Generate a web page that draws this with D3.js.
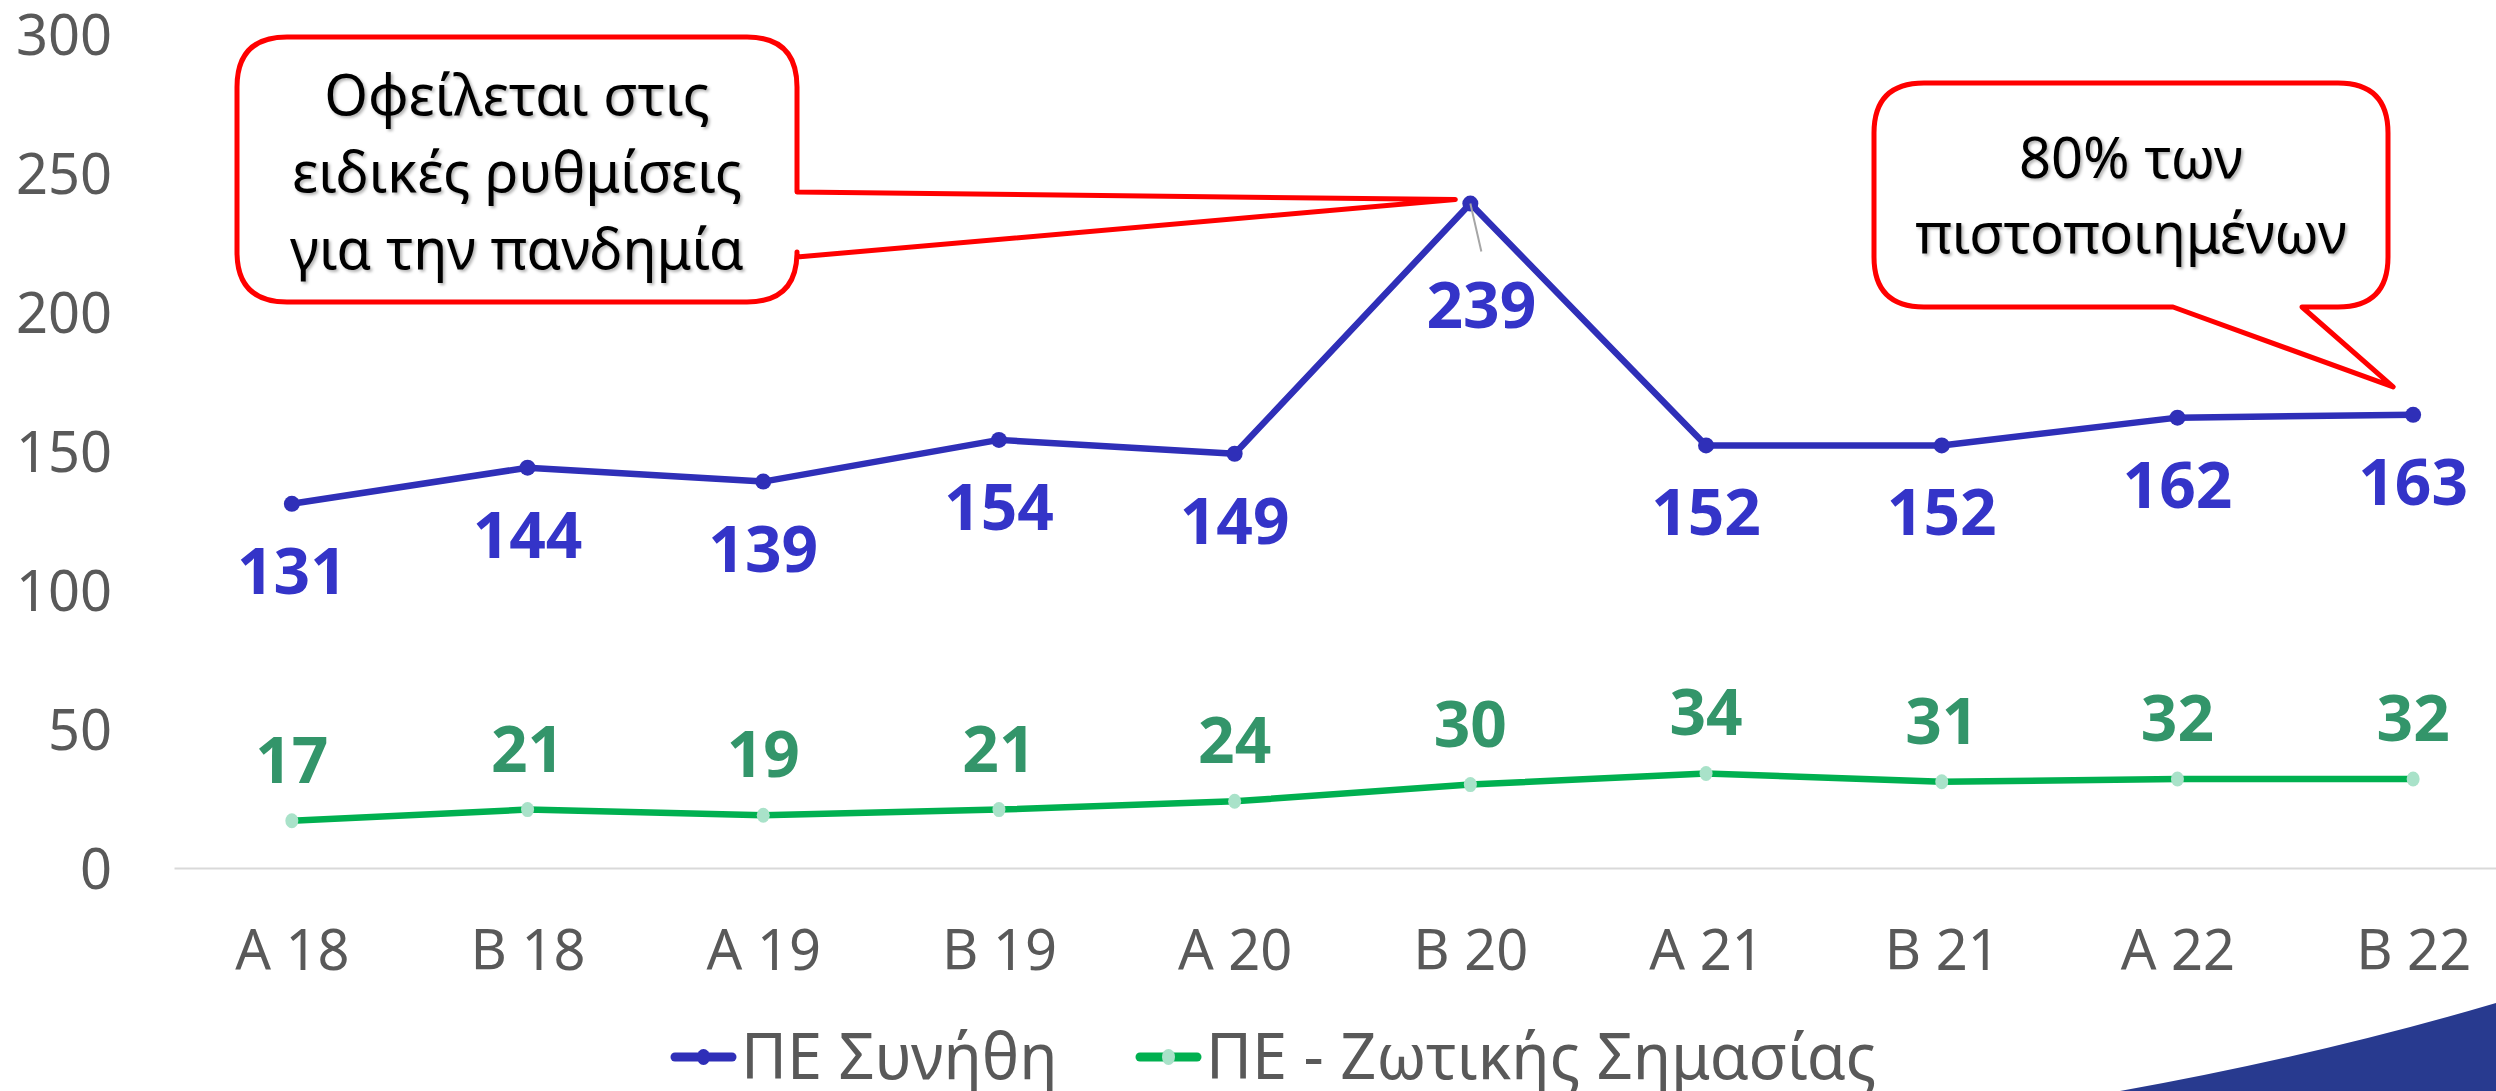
<!DOCTYPE html>
<html>
<head>
<meta charset="utf-8">
<script src="https://cdn.jsdelivr.net/npm/d3@7"></script>
<style>
  html, body { margin: 0; padding: 0; background: #fff; }
  svg { display: block; font-family: "Noto Sans", sans-serif; }
</style>
</head>
<body>
<div id="chart"></div>
<script>
// periods and series
const periods = ['Α 18', 'Β 18', 'Α 19', 'Β 19', 'Α 20', 'Β 20', 'Α 21', 'Β 21', 'Α 22', 'Β 22'];
const usual = [131, 144, 139, 154, 149, 239, 152, 152, 162, 163];
const vital = [17, 21, 19, 21, 24, 30, 34, 31, 32, 32];
const yTicks = [0, 50, 100, 150, 200, 250, 300];
const seriesNames = ['ΠΕ Συνήθη', 'ΠΕ - Ζωτικής Σημασίας'];
const note1 = ['Οφείλεται στις', 'ειδικές ρυθμίσεις', 'για την πανδημία'];
const note2 = ['80% των', 'πιστοποιημένων'];

const W = 2496, H = 1091;
const BLUE = '#2f2fb8', BLUE_LBL = '#3434c8';
const GREEN = '#00b050', GREEN_DOT = '#a9e2c9', GREEN_LBL = '#33956a';
const RED = '#ff0000';

const svg = d3.select('#chart')
  .append('svg')
  .attr('width', W)
  .attr('height', H);

const defs = svg.append('defs');
defs.append('filter')
  .attr('id', 'txtShadow')
  .attr('x', '-10%').attr('y', '-20%').attr('width', '120%').attr('height', '140%')
  .append('feDropShadow')
  .attr('dx', 2).attr('dy', 2).attr('stdDeviation', 1.5)
  .attr('flood-color', '#000').attr('flood-opacity', 0.3);

const x = d3.scalePoint()
  .domain(periods)
  .range([174, 2531])
  .padding(0.5);

const y = d3.scaleLinear()
  .domain([0, 300])
  .range([868, 34]);

// decorative swoosh, bottom right corner
svg.append('path')
  .attr('d', 'M2120,1091 Q2320,1055 2496,1003 L2496,1091 Z')
  .attr('fill', '#283a8f');

// x axis (its domain line is the zero gridline)
const xAxis = svg.append('g')
  .attr('transform', `translate(0,${y(0)})`)
  .call(d3.axisBottom(x).tickSize(0).tickSizeOuter(0).tickPadding(62));
xAxis.select('.domain').attr('stroke', '#d9d9d9').attr('stroke-width', 2);
xAxis.selectAll('text')
  .attr('font-family', '"Noto Sans", sans-serif')
  .attr('font-size', 56)
  .attr('fill', '#595959');

// y axis labels only
const yAxis = svg.append('g')
  .attr('transform', 'translate(174,0)')
  .call(d3.axisLeft(y).tickValues(yTicks).tickSize(0).tickPadding(62));
yAxis.select('.domain').remove();
yAxis.selectAll('text')
  .attr('font-family', '"Noto Sans", sans-serif')
  .attr('font-size', 56)
  .attr('fill', '#595959')
  .attr('dy', '0.36em');

const line = d3.line()
  .x((d, i) => x(periods[i]))
  .y(d => y(d));

// vital series
svg.append('path')
  .datum(vital)
  .attr('d', line)
  .attr('fill', 'none')
  .attr('stroke', GREEN)
  .attr('stroke-width', 6.5)
  .attr('stroke-linejoin', 'round');

svg.selectAll('.dot-vital')
  .data(vital)
  .join('ellipse')
  .attr('class', 'dot-vital')
  .attr('cx', (d, i) => x(periods[i]))
  .attr('cy', d => y(d))
  .attr('rx', 6.5)
  .attr('ry', 7.5)
  .attr('fill', GREEN_DOT);

svg.selectAll('.lbl-vital')
  .data(vital)
  .join('text')
  .attr('class', 'lbl-vital')
  .attr('x', (d, i) => x(periods[i]))
  .attr('y', d => y(d) - 38)
  .attr('text-anchor', 'middle')
  .attr('font-size', 64)
  .attr('font-weight', 700)
  .attr('fill', GREEN_LBL)
  .text(d => d);

// usual series
svg.append('path')
  .datum(usual)
  .attr('d', line)
  .attr('fill', 'none')
  .attr('stroke', BLUE)
  .attr('stroke-width', 6.5)
  .attr('stroke-linejoin', 'round');

svg.selectAll('.dot-usual')
  .data(usual)
  .join('circle')
  .attr('class', 'dot-usual')
  .attr('cx', (d, i) => x(periods[i]))
  .attr('cy', d => y(d))
  .attr('r', 8)
  .attr('fill', BLUE);

// the peak label sits lower, joined by a thin leader
const peak = usual.indexOf(d3.max(usual));
svg.append('line')
  .attr('x1', x(periods[peak]))
  .attr('y1', y(usual[peak]))
  .attr('x2', x(periods[peak]) + 11)
  .attr('y2', y(usual[peak]) + 48)
  .attr('stroke', '#a6a6a6')
  .attr('stroke-width', 2);

svg.selectAll('.lbl-usual')
  .data(usual)
  .join('text')
  .attr('class', 'lbl-usual')
  .attr('x', (d, i) => x(periods[i]) + (i === peak ? 11 : 0))
  .attr('y', (d, i) => y(d) + (i === peak ? 124 : 90))
  .attr('text-anchor', 'middle')
  .attr('font-size', 64)
  .attr('font-weight', 700)
  .attr('fill', BLUE_LBL)
  .text(d => d);

// callouts
function roundedWithPointer(x0, y0, x1, y1, r, side, a, b, tip) {
  // side: 'right' -> a,b are y positions on right edge; 'bottom' -> x positions on bottom edge
  let p = `M${x0 + r},${y0} H${x1 - r} Q${x1},${y0} ${x1},${y0 + r}`;
  if (side === 'right') {
    p += ` V${a} L${tip[0]},${tip[1]} L${x1},${b}`;
  }
  p += ` V${y1 - r} Q${x1},${y1} ${x1 - r},${y1}`;
  if (side === 'bottom') {
    p += ` H${b} L${tip[0]},${tip[1]} L${a},${y1}`;
  }
  p += ` H${x0 + r} Q${x0},${y1} ${x0},${y1 - r} V${y0 + r} Q${x0},${y0} ${x0 + r},${y0} Z`;
  return p;
}

const tip1 = [x(periods[peak]) - 15, y(usual[peak]) - 4];
svg.append('path')
  .attr('d', roundedWithPointer(237, 37, 797, 302, 50, 'right', 192, 257, tip1))
  .attr('fill', '#fff')
  .attr('stroke', RED)
  .attr('stroke-width', 5)
  .attr('stroke-linejoin', 'round');

svg.append('g')
  .attr('filter', 'url(#txtShadow)')
  .selectAll('text')
  .data(note1)
  .join('text')
  .attr('x', 517)
  .attr('y', (d, i) => 115 + i * 77)
  .attr('text-anchor', 'middle')
  .attr('font-size', 56)
  .attr('fill', '#000')
  .text(d => d);

const last = usual.length - 1;
const tip2 = [x(periods[last]) - 20, y(usual[last]) - 28];
svg.append('path')
  .attr('d', roundedWithPointer(1874, 83, 2388, 307, 50, 'bottom', 2173, 2302, tip2))
  .attr('fill', '#fff')
  .attr('stroke', RED)
  .attr('stroke-width', 5)
  .attr('stroke-linejoin', 'round');

svg.append('g')
  .attr('filter', 'url(#txtShadow)')
  .selectAll('text')
  .data(note2)
  .join('text')
  .attr('x', 2131)
  .attr('y', (d, i) => 178 + i * 75)
  .attr('text-anchor', 'middle')
  .attr('font-size', 56)
  .attr('fill', '#000')
  .text(d => d);

// legend
const legendItems = [
  { name: seriesNames[0], x: 675, stroke: BLUE, dot: BLUE },
  { name: seriesNames[1], x: 1140, stroke: GREEN, dot: GREEN_DOT }
];
const lg = svg.append('g').attr('transform', 'translate(0,1057)');
const item = lg.selectAll('g')
  .data(legendItems)
  .join('g')
  .attr('transform', d => `translate(${d.x},0)`);
item.append('line')
  .attr('x1', 0).attr('x2', 57)
  .attr('stroke', d => d.stroke)
  .attr('stroke-width', 9)
  .attr('stroke-linecap', 'round');
item.append('ellipse')
  .attr('cx', 28.5)
  .attr('rx', 6.5).attr('ry', 8)
  .attr('fill', d => d.dot);
item.append('text')
  .attr('x', 66)
  .attr('y', 22)
  .attr('font-size', 63)
  .attr('fill', '#595959')
  .text(d => d.name);
</script>
</body>
</html>
